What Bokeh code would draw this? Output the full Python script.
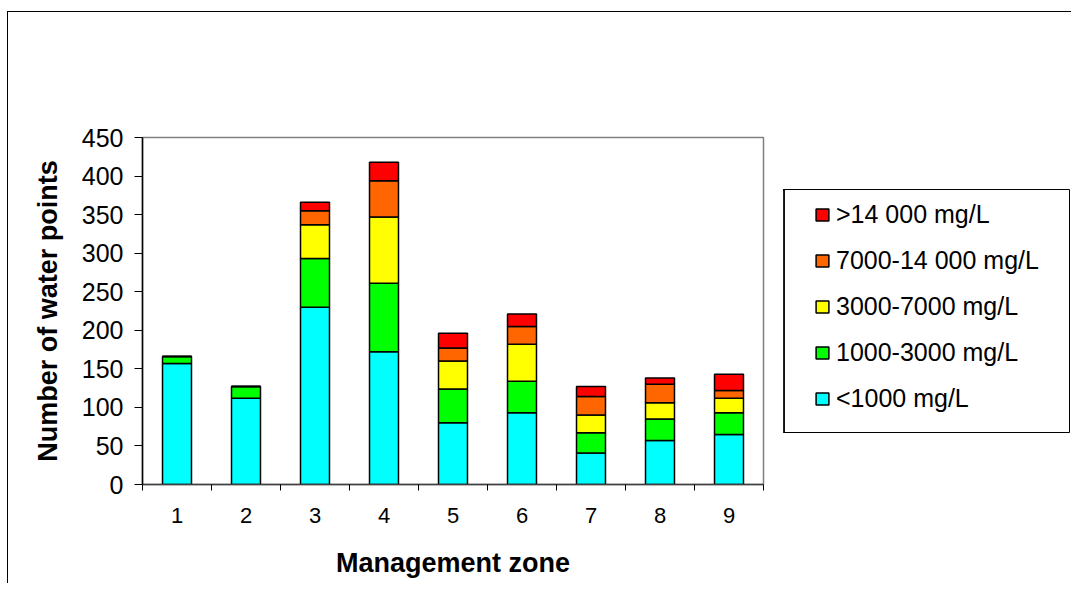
from bokeh.plotting import figure
from bokeh.models import Range1d, FixedTicker, Legend, LegendItem, ColumnDataSource, Spacer
from bokeh.layouts import row, column
from bokeh.embed import file_html
from bokeh.resources import INLINE

# ---- data ----
zones = [1, 2, 3, 4, 5, 6, 7, 8, 9]
lt1000 = [157, 112, 230, 172, 80, 93, 41, 57, 65]
r1000_3000 = [9, 15, 63, 89, 44, 41, 26, 28, 28]
r3000_7000 = [0, 0, 44, 86, 36, 48, 23, 21, 19]
r7000_14000 = [0, 0, 18, 47, 17, 23, 24, 24, 10]
gt14000 = [0, 0, 11, 24, 19, 16, 13, 8, 21]

series_keys = ["lt1000", "r1000_3000", "r3000_7000", "r7000_14000", "gt14000"]
series_labels = ["<1000 mg/L", "1000-3000 mg/L", "3000-7000 mg/L",
                 "7000-14 000 mg/L", ">14 000 mg/L"]
series_colors = ["#00FFFF", "#00FF00", "#FFFF00", "#FF6600", "#FF0000"]
y_ticks = [0, 50, 100, 150, 200, 250, 300, 350, 400, 450]

source = ColumnDataSource(data=dict(
    zone=zones, lt1000=lt1000, r1000_3000=r1000_3000, r3000_7000=r3000_7000,
    r7000_14000=r7000_14000, gt14000=gt14000))

FONT = "Liberation Sans"
H = 571

p = figure(frame_width=620, frame_height=346,
           min_border_left=134, min_border_right=21,
           min_border_top=125, min_border_bottom=100,
           x_range=Range1d(0.5, len(zones) + 0.5), y_range=Range1d(0, 450),
           output_backend="svg", toolbar_location=None)
p.frame_align = False
p.styles = {"border-left": "1px solid black", "border-top": "1px solid black"}

renderers = p.vbar_stack(series_keys, x="zone", width=0.42, source=source,
                         fill_color=series_colors, line_color="black",
                         line_width=1.5)

p.xgrid.grid_line_color = None
p.ygrid.grid_line_color = None
p.outline_line_color = "#808080"
p.outline_line_width = 1.5
p.background_fill_color = "white"
p.border_fill_color = "white"

# x axis: labels at zone centres, ticks at boundaries
xa = p.xaxis[0]
boundaries = [z - 0.5 for z in zones] + [zones[-1] + 0.5]
xa.ticker = FixedTicker(ticks=zones, minor_ticks=boundaries)
xa.major_tick_line_color = None
xa.minor_tick_line_color = "black"
xa.minor_tick_in = 0
xa.minor_tick_out = 6
xa.axis_line_color = "#404040"
xa.axis_line_width = 1.5
xa.major_label_text_font = FONT
xa.major_label_text_font_size = "22px"
xa.major_label_text_color = "black"
xa.major_label_standoff = 17
xa.axis_label = "Management zone"
xa.axis_label_text_font = FONT
xa.axis_label_text_font_style = "bold"
xa.axis_label_text_font_size = "27px"
xa.axis_label_text_color = "black"
xa.axis_label_standoff = 22

ya = p.yaxis[0]
ya.ticker = FixedTicker(ticks=y_ticks)
ya.minor_tick_line_color = None
ya.major_tick_in = 0
ya.major_tick_out = 8
ya.major_tick_line_color = "black"
ya.axis_line_color = "black"
ya.axis_line_width = 1.5
ya.major_label_text_font = FONT
ya.major_label_text_font_size = "25px"
ya.major_label_text_color = "black"
ya.major_label_standoff = 11
ya.axis_label = "Number of water points"
ya.axis_label_text_font = FONT
ya.axis_label_text_font_style = "bold"
ya.axis_label_text_font_size = "27px"
ya.axis_label_text_color = "black"
ya.axis_label_standoff = 16

# ---- legend panel (its frame is the legend box) ----
q = figure(frame_width=286, frame_height=242,
           min_border_left=0, min_border_right=2,
           min_border_top=177, min_border_bottom=H - 177 - 242,
           x_range=Range1d(100, 101), y_range=Range1d(0, 1),
           x_axis_location=None, y_axis_location=None,
           output_backend="svg", toolbar_location=None)
q.frame_align = False
q.styles = {"border-top": "1px solid black"}
q.xgrid.grid_line_color = None
q.ygrid.grid_line_color = None
q.outline_line_color = "black"
q.outline_line_width = 1
q.background_fill_color = "white"
q.border_fill_color = "white"

# same stacked bars, kept out of this panel's view; they only feed the legend
proxies = q.vbar_stack(series_keys, x="zone", width=0.42, source=source,
                       fill_color=series_colors, line_color="black",
                       line_width=1.5)
items = [LegendItem(label=lab, renderers=[r])
         for lab, r in zip(series_labels, proxies)][::-1]
legend = Legend(items=items, location=(31, 19))
legend.border_line_color = None
legend.background_fill_alpha = 0
legend.label_text_font = FONT
legend.label_text_font_size = "25px"
legend.label_text_color = "black"
legend.label_height = 30
legend.glyph_width = 16
legend.glyph_height = 15
legend.label_standoff = 6
legend.padding = 0
legend.spacing = 16
legend.margin = 0
q.add_layout(legend, "center")

layout = column(Spacer(height=11), row(Spacer(width=7), p, q))

open("out.html", "w").write(file_html(layout, INLINE))
